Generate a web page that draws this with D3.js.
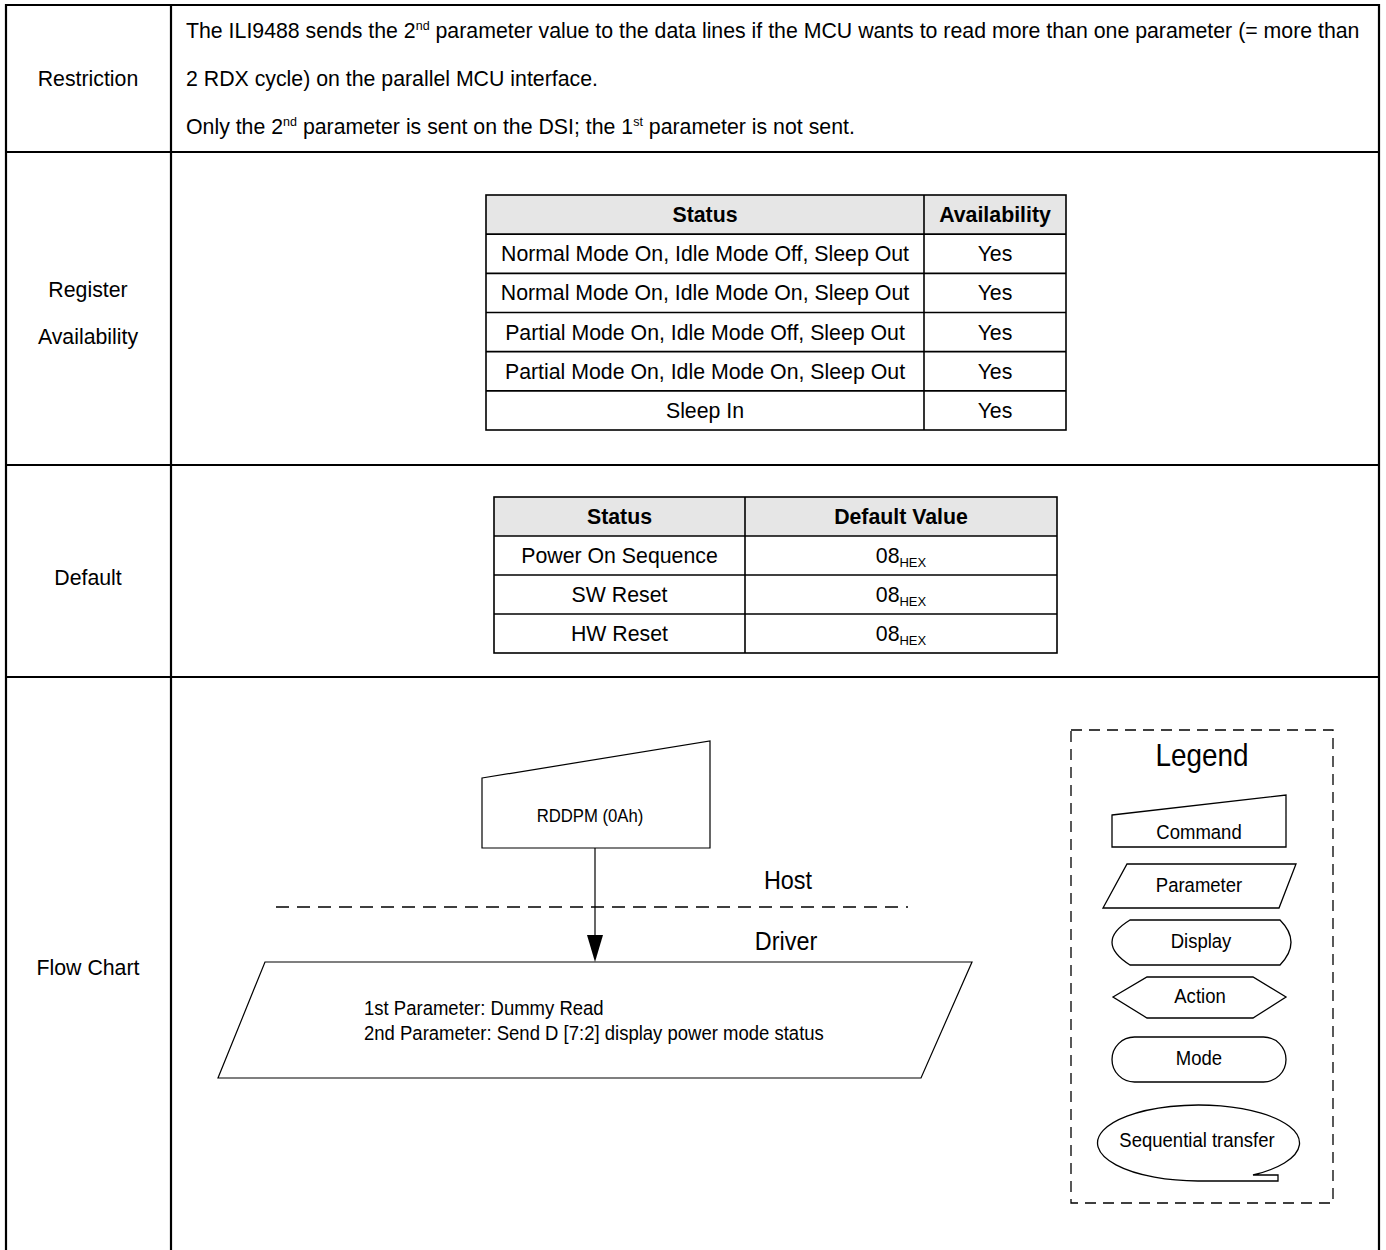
<!DOCTYPE html>
<html><head><meta charset="utf-8">
<script src="https://cdn.jsdelivr.net/npm/d3@7"></script>
<style>body{margin:0;background:#fff}svg{display:block}</style>
</head><body>
<script>
// ---------- data ----------
const sectionLabels = [["Restriction"], ["Register", "Availability"], ["Default"], ["Flow Chart"]];
const restrictionLines = [
  [["The ILI9488 sends the 2", ""], ["nd", "sup"], [" parameter value to the data lines if the MCU wants to read more than one parameter (= more than", ""]],
  [["2 RDX cycle) on the parallel MCU interface.", ""]],
  [["Only the 2", ""], ["nd", "sup"], [" parameter is sent on the DSI; the 1", ""], ["st", "sup"], [" parameter is not sent.", ""]]
];
const availHeader = ["Status", "Availability"];
const availStatus = ["Normal Mode On, Idle Mode Off, Sleep Out", "Normal Mode On, Idle Mode On, Sleep Out",
  "Partial Mode On, Idle Mode Off, Sleep Out", "Partial Mode On, Idle Mode On, Sleep Out", "Sleep In"];
const availValues = ["Yes", "Yes", "Yes", "Yes", "Yes"];
const defaultHeader = ["Status", "Default Value"];
const defaultStatus = ["Power On Sequence", "SW Reset", "HW Reset"];
const defaultValues = ["08", "08", "08"];
const defaultUnit = "HEX";
const flowCommand = "RDDPM (0Ah)";
const flowParams = ["1st Parameter: Dummy Read", "2nd Parameter: Send D [7:2] display power mode status"];
const flowZones = ["Host", "Driver"];
const legendTitle = "Legend";
const legendItems = ["Command", "Parameter", "Display", "Action", "Mode", "Sequential transfer"];

// ---------- drawing ----------
const W = 1386, H = 1250;
const FONT = "'Liberation Sans', Arial, sans-serif";
const FS = 21.3;
const svg = d3.select("body").append("svg").attr("width", W).attr("height", H)
  .style("font-family", FONT);

// outer frame
const rowY = d3.scaleOrdinal().domain(d3.range(5)).range([5, 152, 465, 677, 1252]);
const xL = 6, xM = 171, xR = 1379;
const g = svg.append("g").attr("stroke", "#000").attr("stroke-width", 2.2);
g.append("line").attr("x1", xL).attr("x2", xL).attr("y1", 4).attr("y2", H);
g.append("line").attr("x1", xM).attr("x2", xM).attr("y1", 4).attr("y2", H);
g.append("line").attr("x1", xR).attr("x2", xR).attr("y1", 4).attr("y2", H);
g.selectAll("line.h").data([0, 1, 2, 3]).join("line").attr("class", "h")
  .attr("x1", xL - 1).attr("x2", xR + 1).attr("y1", d => rowY(d)).attr("y2", d => rowY(d));

// section labels
const labelY = [[86], [297, 344], [585], [975]];
sectionLabels.forEach((lines, i) => {
  lines.forEach((t, j) => {
    svg.append("text").attr("x", 88).attr("y", labelY[i][j]).attr("text-anchor", "middle")
      .attr("font-size", FS).text(t);
  });
});

// restriction text
const restY = [38, 86, 134];
restrictionLines.forEach((segs, i) => {
  const t = svg.append("text").attr("x", 186).attr("y", restY[i]).attr("font-size", FS);
  segs.forEach(([s, k], idx) => {
    const prev = idx > 0 ? segs[idx - 1][1] : "";
    const ts = t.append("tspan").text(s);
    if (k === "sup") ts.attr("font-size", 12.5).attr("dy", -8);
    else if (prev === "sup") ts.attr("dy", 8);
  });
});

// generic table
function drawTable(x0, x1, colX, y0, y1, header, col1, col2, sub) {
  const y = d3.scaleBand().domain(d3.range(col1.length + 1)).range([y0, y1]);
  const tg = svg.append("g");
  tg.append("rect").attr("x", x0).attr("y", y0).attr("width", x1 - x0).attr("height", y.bandwidth())
    .attr("fill", "#e6e6e6");
  const ls = tg.append("g").attr("stroke", "#000").attr("stroke-width", 1.6);
  ls.append("rect").attr("x", x0).attr("y", y0).attr("width", x1 - x0).attr("height", y1 - y0).attr("fill", "none");
  ls.append("line").attr("x1", colX).attr("x2", colX).attr("y1", y0).attr("y2", y1);
  ls.selectAll("line.r").data(d3.range(1, col1.length + 1)).join("line").attr("class", "r")
    .attr("x1", x0).attr("x2", x1).attr("y1", d => y(d)).attr("y2", d => y(d));
  const c1 = (x0 + colX) / 2, c2 = (colX + x1) / 2;
  const cy = i => y(i) + y.bandwidth() / 2 + 7.5;
  header.forEach((h, j) => tg.append("text").attr("x", j ? c2 : c1).attr("y", cy(0))
    .attr("text-anchor", "middle").attr("font-weight", "bold").attr("font-size", FS).text(h));
  col1.forEach((s, i) => tg.append("text").attr("x", c1).attr("y", cy(i + 1))
    .attr("text-anchor", "middle").attr("font-size", FS).text(s));
  col2.forEach((s, i) => {
    const t = tg.append("text").attr("x", c2).attr("y", cy(i + 1))
      .attr("text-anchor", "middle").attr("font-size", FS);
    t.append("tspan").text(s);
    if (sub) t.append("tspan").attr("font-size", 13).attr("dy", 4).text(sub);
  });
}
drawTable(486, 1066, 924, 195, 430, availHeader, availStatus, availValues, null);
drawTable(494, 1057, 745, 497, 653, defaultHeader, defaultStatus, defaultValues, defaultUnit);

// condensed text helper
function ctext(x, y, s, size, sx, anchor) {
  return svg.append("text").attr("transform", `translate(${x},${y}) scale(${sx},1)`)
    .attr("text-anchor", anchor || "middle").attr("font-size", size).text(s);
}

// flow chart
const fc = svg.append("g").attr("fill", "none").attr("stroke", "#000").attr("stroke-width", 1.2);
fc.append("path").attr("d", "M482,778 L710,741 L710,848 L482,848 Z");
ctext(590, 822, flowCommand, 19, 0.88);
fc.append("line").attr("x1", 595).attr("x2", 595).attr("y1", 848).attr("y2", 936);
svg.append("path").attr("d", "M587,935 L603,935 L595,962 Z").attr("fill", "#000");
fc.append("line").attr("x1", 276).attr("x2", 908).attr("y1", 907).attr("y2", 907)
  .attr("stroke-dasharray", "13,8").attr("stroke-width", 1.5);
ctext(788, 889, flowZones[0], 26, 0.9);
ctext(786, 950, flowZones[1], 26, 0.9);
fc.append("path").attr("d", "M265,962 L972,962 L921,1078 L218,1078 Z");
flowParams.forEach((s, i) => ctext(364, 1015 + i * 25, s, 19.5, 0.95, "start"));

// legend
const lg = svg.append("g").attr("fill", "none").attr("stroke", "#000").attr("stroke-width", 1.3);
lg.append("rect").attr("x", 1071).attr("y", 730).attr("width", 262).attr("height", 473)
  .attr("stroke-dasharray", "11,7");
ctext(1202, 766, legendTitle, 31, 0.9);
lg.append("path").attr("d", "M1112,815 L1286,795 L1286,847 L1112,847 Z");
ctext(1199, 839, legendItems[0], 19.5, 0.95);
lg.append("path").attr("d", "M1127,864 L1296,864 L1279,908 L1103,908 Z");
ctext(1199, 892, legendItems[1], 19.5, 0.95);
lg.append("path").attr("d", "M1130,920 L1280,920 Q1302,942 1280,965 L1130,965 Q1094,942 1130,920 Z");
ctext(1201, 948, legendItems[2], 19.5, 0.95);
lg.append("path").attr("d", "M1113,997 L1147,977 L1253,977 L1286,997 L1253,1018 L1147,1018 Z");
ctext(1200, 1003, legendItems[3], 19.5, 0.95);
lg.append("rect").attr("x", 1112).attr("y", 1037).attr("width", 174).attr("height", 45).attr("rx", 22.5);
ctext(1199, 1065, legendItems[4], 19.5, 0.95);
lg.append("path").attr("d", "M1198,1181 A101,38 0 1,1 1253,1175 L1278,1175 L1278,1181 Z");
ctext(1197, 1147, legendItems[5], 19.5, 0.95);
</script>
</body></html>
